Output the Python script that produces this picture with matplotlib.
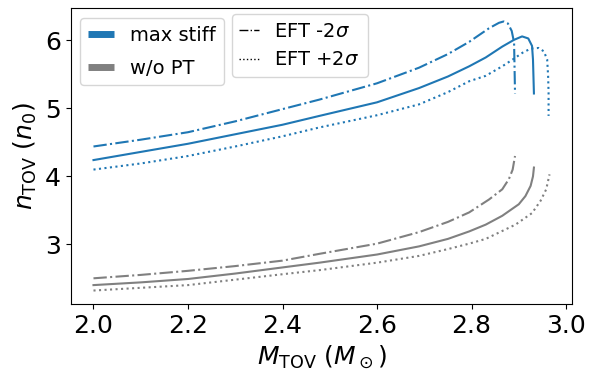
import matplotlib
matplotlib.use("Agg")
import matplotlib.pyplot as plt
from matplotlib.lines import Line2D

# max stiff, central EFT
m_stiff = [2.0, 2.1, 2.2, 2.3, 2.4, 2.478, 2.6, 2.689, 2.75, 2.795, 2.83, 2.865, 2.89, 2.907, 2.92, 2.928, 2.930, 2.932]
n_stiff = [4.24, 4.36, 4.48, 4.62, 4.76, 4.89, 5.09, 5.30, 5.47, 5.62, 5.75, 5.91, 6.01, 6.06, 6.03, 5.92, 5.72, 5.22]
# max stiff, EFT -2 sigma
m_stiff_lo = [2.0, 2.1, 2.2, 2.3, 2.4, 2.478, 2.6, 2.689, 2.75, 2.795, 2.837, 2.858, 2.868, 2.877, 2.885, 2.890, 2.892]
n_stiff_lo = [4.44, 4.54, 4.65, 4.81, 4.99, 5.13, 5.37, 5.60, 5.80, 5.98, 6.18, 6.26, 6.28, 6.25, 6.14, 5.97, 5.22]
# max stiff, EFT +2 sigma
m_stiff_hi = [2.0, 2.1, 2.2, 2.3, 2.4, 2.478, 2.6, 2.689, 2.75, 2.795, 2.83, 2.865, 2.887, 2.908, 2.925, 2.942, 2.953, 2.960, 2.962, 2.963, 2.963]
n_stiff_hi = [4.10, 4.19, 4.30, 4.44, 4.59, 4.72, 4.90, 5.06, 5.24, 5.40, 5.48, 5.62, 5.72, 5.82, 5.88, 5.89, 5.84, 5.72, 5.48, 5.23, 4.89]

# without phase transition, central EFT
m_nopt = [2.0, 2.1, 2.2, 2.3, 2.4, 2.478, 2.6, 2.689, 2.75, 2.795, 2.83, 2.865, 2.90, 2.914, 2.925, 2.930, 2.932]
n_nopt = [2.40, 2.44, 2.49, 2.57, 2.66, 2.73, 2.85, 2.97, 3.08, 3.19, 3.29, 3.42, 3.59, 3.71, 3.86, 4.00, 4.13]
# without phase transition, EFT -2 sigma
m_nopt_lo = [2.0, 2.1, 2.2, 2.3, 2.4, 2.478, 2.6, 2.689, 2.75, 2.795, 2.837, 2.865, 2.879, 2.887, 2.892]
n_nopt_lo = [2.50, 2.55, 2.61, 2.68, 2.76, 2.86, 3.01, 3.18, 3.33, 3.47, 3.66, 3.81, 3.96, 4.10, 4.30]
# without phase transition, EFT +2 sigma
m_nopt_hi = [2.0, 2.1, 2.2, 2.3, 2.4, 2.478, 2.6, 2.689, 2.75, 2.795, 2.83, 2.893, 2.928, 2.946, 2.958, 2.965]
n_nopt_hi = [2.32, 2.36, 2.40, 2.48, 2.56, 2.62, 2.73, 2.83, 2.93, 3.01, 3.08, 3.29, 3.46, 3.64, 3.81, 4.03]

blue = "#1f77b4"
grey = "gray"

fig = plt.figure(figsize=(5.91, 3.74), dpi=100)
ax = fig.add_axes([0.1196, 0.1872, 0.8488, 0.7914])

ax.plot(m_stiff, n_stiff, color=blue, lw=1.5, ls="-")
ax.plot(m_stiff_lo, n_stiff_lo, color=blue, lw=1.5, ls="-.")
ax.plot(m_stiff_hi, n_stiff_hi, color=blue, lw=1.5, ls=":")
ax.plot(m_nopt, n_nopt, color=grey, lw=1.5, ls="-")
ax.plot(m_nopt_lo, n_nopt_lo, color=grey, lw=1.5, ls="-.")
ax.plot(m_nopt_hi, n_nopt_hi, color=grey, lw=1.5, ls=":")

ax.set_xlabel(r"$M_{\rm TOV}$ ($M_\odot$)", fontsize=18)
ax.set_ylabel(r"$n_{\rm TOV}$ ($n_0$)", fontsize=18)
ax.tick_params(labelsize=18)
ax.set_xticks([2.0, 2.2, 2.4, 2.6, 2.8, 3.0])
ax.set_yticks([3, 4, 5, 6])

h1 = [Line2D([], [], color=blue, lw=5, solid_capstyle="butt"),
      Line2D([], [], color=grey, lw=5, solid_capstyle="butt")]
leg1 = ax.legend(h1, ["max stiff", "w/o PT"], loc="upper left", fontsize=14,
                 handlelength=1.35, labelspacing=0.72)
ax.add_artist(leg1)

h2 = [Line2D([], [], color="k", lw=1, ls="-."),
      Line2D([], [], color="k", lw=1, ls=":")]
ax.legend(h2, [r"EFT -2$\sigma$", r"EFT +2$\sigma$"], loc="upper left",
          bbox_to_anchor=(0.321, 0.98), borderaxespad=0, fontsize=14,
          handlelength=1.0)

fig.savefig("out.png", dpi=100)
